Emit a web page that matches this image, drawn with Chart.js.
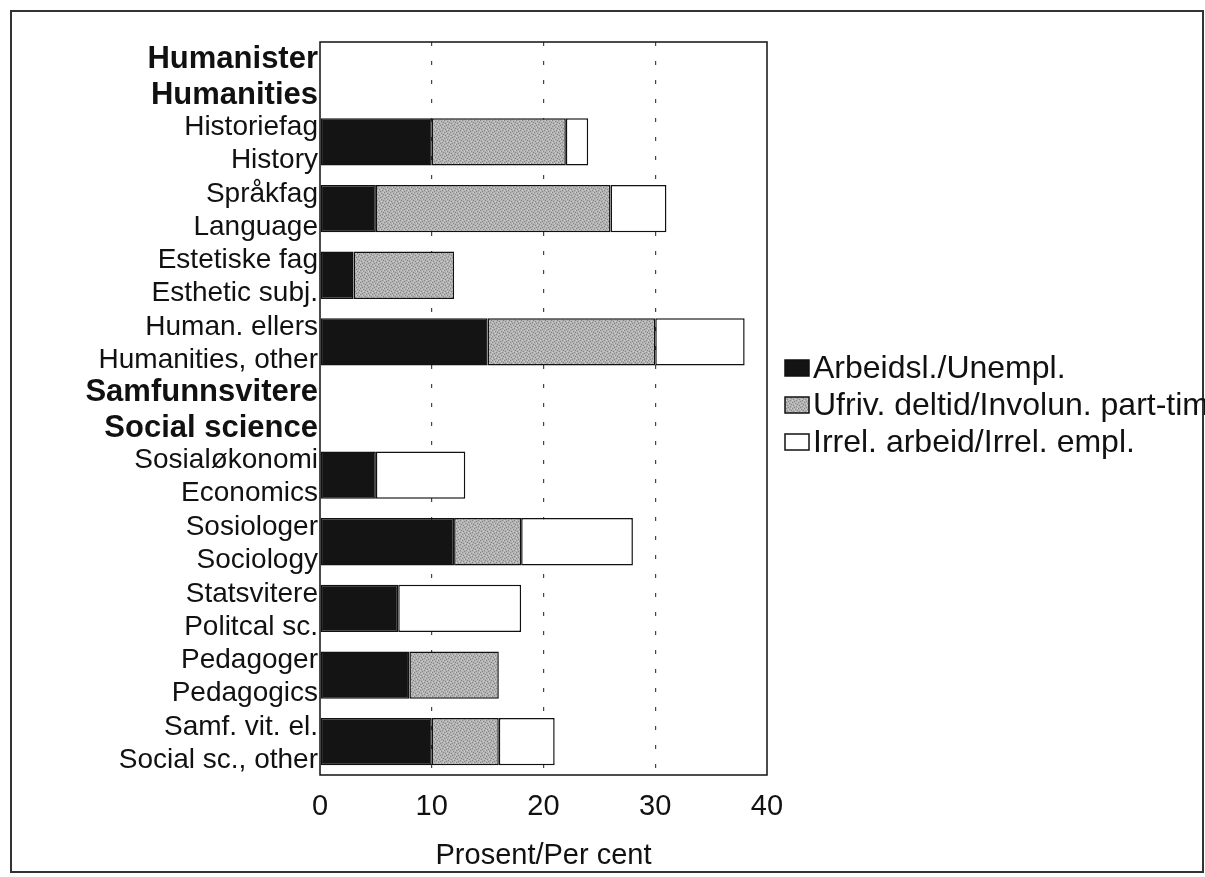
<!DOCTYPE html>
<html>
<head>
<meta charset="utf-8">
<title>Arbeidsledighet etter fag</title>
<script src="https://cdn.jsdelivr.net/npm/chart.js@4.4.1/dist/chart.umd.min.js"></script>
<style>
    body { margin: 0; background: #fff; }
    #box { width: 1205px; height: 877px; }
</style>
</head>
<body>
<div id="box"><canvas id="jobChart" width="1205" height="877"></canvas></div>
<script>
const categories = [
    ["Humanister", "Humanities"],
    ["Historiefag", "History"],
    ["Språkfag", "Language"],
    ["Estetiske fag", "Esthetic subj."],
    ["Human. ellers", "Humanities, other"],
    ["Samfunnsvitere", "Social science"],
    ["Sosialøkonomi", "Economics"],
    ["Sosiologer", "Sociology"],
    ["Statsvitere", "Politcal sc."],
    ["Pedagoger", "Pedagogics"],
    ["Samf. vit. el.", "Social sc., other"]
];
const headerRows = [0, 5];

const seriesNames = ["Arbeidsl./Unempl.", "Ufriv. deltid/Involun. part-time", "Irrel. arbeid/Irrel. empl."];
const unemployed = [null, 10, 5, 3, 15, null, 5, 12, 7, 8, 10];
const partTime   = [null, 12, 21, 9, 15, null, null, 6, null, 8, 6];
const irrelevant = [null, 2, 5, null, 8, null, 8, 10, 11, null, 5];

const xMin = 0;
const xMax = 40;
const xStep = 10;
const xTitle = "Prosent/Per cent";

const FONT = "'Liberation Sans', Arial, Helvetica, sans-serif";

// speckled grey like the printed original
function makeSpeckle() {
    const c = document.createElement("canvas");
    c.width = 6;
    c.height = 6;
    const g = c.getContext("2d");
    g.fillStyle = "#b3b3b3";
    g.fillRect(0, 0, 6, 6);
    g.fillStyle = "#858585";
    [[0, 0], [3, 1], [1, 3], [4, 4], [2, 5], [5, 2]].forEach(p => g.fillRect(p[0], p[1], 1, 1));
    g.fillStyle = "#d0d0d0";
    [[2, 1], [5, 0], [0, 4], [3, 3]].forEach(p => g.fillRect(p[0], p[1], 1, 1));
    return g.createPattern(c, "repeat");
}

const frames = {
    id: "frames",
    beforeDraw(chart) {
        const ctx = chart.ctx;
        ctx.save();
        ctx.fillStyle = "#fff";
        ctx.fillRect(0, 0, chart.width, chart.height);
        ctx.strokeStyle = "#333";
        ctx.lineWidth = 2;
        ctx.strokeRect(11, 11, 1192, 861);
        ctx.restore();
    },
    afterDatasetsDraw(chart) {
        const a = chart.chartArea;
        const ctx = chart.ctx;
        ctx.save();
        ctx.strokeStyle = "#111";
        ctx.lineWidth = 1.5;
        ctx.strokeRect(a.left, a.top, a.right - a.left, a.bottom - a.top);
        ctx.restore();
    }
};

const sideLegend = {
    id: "sideLegend",
    afterDraw(chart) {
        const ctx = chart.ctx;
        ctx.save();
        ctx.font = "32px " + FONT;
        ctx.textBaseline = "middle";
        ctx.textAlign = "left";
        chart.data.datasets.forEach((ds, i) => {
            const cy = 368 + i * 37;
            ctx.fillStyle = ds.backgroundColor;
            ctx.fillRect(785, cy - 8, 24, 16);
            ctx.strokeStyle = "#111";
            ctx.lineWidth = 1.5;
            ctx.strokeRect(785, cy - 8, 24, 16);
            ctx.fillStyle = "#111";
            ctx.fillText(ds.label, 813, cy + 1);
        });
        ctx.restore();
    }
};

function createChart() {
    const ctx = document.getElementById("jobChart").getContext("2d");
    const grey = makeSpeckle();
    const colors = ["#141414", grey, "#ffffff"];
    const series = [unemployed, partTime, irrelevant];

    new Chart(ctx, {
        type: "bar",
        data: {
            labels: categories,
            datasets: series.map((values, i) => ({
                label: seriesNames[i],
                data: values,
                backgroundColor: colors[i],
                borderColor: "#111",
                borderWidth: 1.5,
                borderSkipped: false,
                barPercentage: 1,
                categoryPercentage: 0.71
            }))
        },
        options: {
            indexAxis: "y",
            responsive: false,
            animation: false,
            layout: { padding: { left: 0, top: 42, right: 438, bottom: 0 } },
            plugins: {
                legend: { display: false },
                tooltip: { enabled: false }
            },
            scales: {
                x: {
                    stacked: true,
                    min: xMin,
                    max: xMax,
                    ticks: {
                        stepSize: xStep,
                        color: "#111",
                        padding: 15,
                        font: { family: FONT, size: 29 }
                    },
                    grid: {
                        drawTicks: false,
                        lineWidth: 1.2,
                        color: c => (c.tick && (c.tick.value === xMin || c.tick.value === xMax)) ? "rgba(0,0,0,0)" : "#444"
                    },
                    border: { display: false, dash: [4, 15] },
                    title: {
                        display: true,
                        text: xTitle,
                        color: "#111",
                        font: { family: FONT, size: 29 },
                        padding: { top: 0, bottom: 4 }
                    },
                    afterFit: scale => { scale.height = 102; }
                },
                y: {
                    stacked: true,
                    grid: { display: false, drawTicks: false },
                    border: { display: false },
                    ticks: {
                        autoSkip: false,
                        color: "#111",
                        padding: 2,
                        labelOffset: 2,
                        font: c => headerRows.includes(c.index)
                            ? { family: FONT, size: 31, weight: "bold", lineHeight: 1.15 }
                            : { family: FONT, size: 28, lineHeight: 1.18 }
                    },
                    afterFit: scale => { scale.width = 320; }
                }
            }
        },
        plugins: [frames, sideLegend]
    });
}

window.onload = function() {
    createChart();
};
</script>
</body>
</html>
